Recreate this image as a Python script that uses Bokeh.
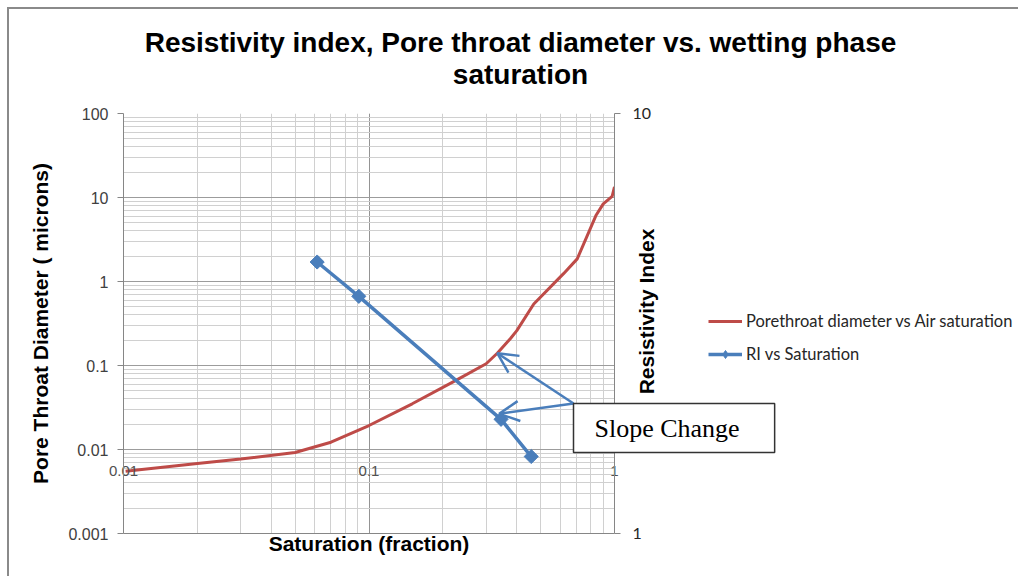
import math
from bokeh.plotting import figure
from bokeh.models import (Range1d, LogScale, LogAxis, Legend, LegendItem, Label,
                          Arrow, OpenHead, ColumnDataSource, FixedTicker, CustomJSTickFormatter)
from bokeh.embed import file_html
from bokeh.resources import INLINE

# ---------------- data ----------------
sat_pore = [0.0102, 0.02, 0.03, 0.05, 0.07, 0.1, 0.15, 0.225, 0.3, 0.333, 0.377, 0.4,
            0.469, 0.62, 0.705, 0.84, 0.9, 0.978, 1.0]
pore_diam = [0.0055, 0.0068, 0.0077, 0.0092, 0.0122, 0.0193, 0.035, 0.066, 0.105, 0.14, 0.21, 0.26,
             0.54, 1.24, 1.86, 6.1, 8.4, 10.3, 13.4]
sat_ri = [0.0615, 0.0909, 0.345, 0.458]
ri = [4.43, 3.67, 1.87, 1.525]

x_ticks = [0.01, 0.1, 1]
x_tick_labels = ["0.01", "0.1", "1"]
y_ticks = [0.001, 0.01, 0.1, 1, 10, 100]
y_tick_labels = ["0.001", "0.01", "0.1", "1", "10", "100"]
ri_ticks = [1, 10]
ri_tick_labels = ["1", "10"]

title_lines = ["Resistivity index, Pore throat diameter vs. wetting phase", "saturation"]
x_title = "Saturation (fraction)"
y_title = "Pore Throat Diameter ( microns)"
ri_title = "Resistivity Index"
series_names = ["Porethroat diameter vs Air saturation", "RI vs Saturation"]
note_text = "Slope Change"
arrow_x_start = [0.681, 0.681]
arrow_y_start = [0.0353, 0.0353]
arrow_x_end = [0.333, 0.339]
arrow_y_end = [0.14, 0.0266]

RED = "#be4b48"
BLUE = "#4a7ebb"
AXIS = "#868686"

# ---------------- layout (window px) ----------------
WIN_W, WIN_H = 1020, 578
OX, OY = 9, 9
W, H = WIN_W - OX, WIN_H - OY
FL, FT, FR, FB = 123, 113, 614, 533

p = figure(width=W, height=H, x_axis_type="log", y_axis_type="log",
           x_range=Range1d(0.01, 1), y_range=Range1d(0.001, 100),
           output_backend="svg", toolbar_location=None,
           min_border_left=FL - OX, min_border_top=FT - OY,
           min_border_right=(OX + W) - FR, min_border_bottom=(OY + H) - FB,
           margin=(7, 0, 0, 7))
p.styles = {"border-left": "2px solid #8a8a8a", "border-top": "2px solid #8a8a8a"}
p.outline_line_color = None
p.background_fill_color = "white"
p.border_fill_color = "white"

def minor_of(ticks):
    out = []
    for t in ticks[:-1]:
        out += [t * m for m in range(1, 10)]
    return out + [ticks[-1]]

fmt_code = """
const i = tvals.findIndex(t => Math.abs(Math.log10(t) - Math.log10(tick)) < 1e-6);
return i >= 0 ? tlabels[i] : "";
"""

# x axis: tick labels pulled up to the 0.01 level like the original
xa = p.xaxis[0]
xa.ticker = FixedTicker(ticks=x_ticks, minor_ticks=minor_of(x_ticks))
xa.formatter = CustomJSTickFormatter(args=dict(tvals=x_ticks, tlabels=x_tick_labels), code=fmt_code)
xa.major_label_text_font = "Liberation Sans"
xa.major_label_text_font_size = "15px"
xa.major_label_text_color = "#505050"
xa.major_label_standoff = -68
xa.major_tick_out = 0
xa.major_tick_in = 0
xa.minor_tick_out = 0
xa.minor_tick_in = 0
xa.axis_line_color = AXIS
xa.axis_label = x_title
xa.axis_label_text_font = "Liberation Sans"
xa.axis_label_text_font_style = "bold"
xa.axis_label_text_font_size = "21px"
xa.axis_label_text_color = "black"
xa.axis_label_standoff = 53

# left y axis
ya = p.yaxis[0]
ya.ticker = FixedTicker(ticks=y_ticks, minor_ticks=minor_of(y_ticks))
ya.formatter = CustomJSTickFormatter(args=dict(tvals=y_ticks, tlabels=y_tick_labels), code=fmt_code)
ya.major_label_text_font = "Liberation Sans"
ya.major_label_text_font_size = "16px"
ya.major_label_text_color = "#404040"
ya.major_tick_out = 6
ya.major_tick_in = 0
ya.major_tick_line_color = AXIS
ya.minor_tick_out = 0
ya.minor_tick_in = 0
ya.major_label_standoff = 9
ya.axis_line_color = AXIS
ya.axis_label = y_title
ya.axis_label_text_font = "Liberation Sans"
ya.axis_label_text_font_style = "bold"
ya.axis_label_text_font_size = "21px"
ya.axis_label_text_color = "black"
ya.axis_label_standoff = 13

# grids
p.xgrid.grid_line_color = "#949494"
p.xgrid.minor_grid_line_color = "#d0d0d0"
p.ygrid.grid_line_color = "#9c9c9c"
p.ygrid.minor_grid_line_color = "#d0d0d0"

# secondary y axis (Resistivity Index)
p.extra_y_ranges = {"ri": Range1d(1, 10)}
p.extra_y_scales = {"ri": LogScale()}
ra = LogAxis(y_range_name="ri")
ra.ticker = FixedTicker(ticks=ri_ticks, minor_ticks=[])
ra.formatter = CustomJSTickFormatter(args=dict(tvals=ri_ticks, tlabels=ri_tick_labels), code=fmt_code)
ra.major_label_text_font = "Lato"
ra.major_label_text_font_size = "16px"
ra.major_label_text_color = "#262626"
ra.major_tick_out = 6
ra.major_tick_in = 0
ra.major_tick_line_color = AXIS
ra.minor_tick_out = 0
ra.minor_tick_in = 0
ra.major_label_standoff = 12
ra.axis_line_color = AXIS
p.add_layout(ra, "right")

# series
r_red = p.line(sat_pore, pore_diam, line_color=RED, line_width=3)
r_blue = p.line(sat_ri, ri, line_color=BLUE, line_width=3.5, y_range_name="ri")
r_blue_m = p.scatter(sat_ri, ri, marker="square", angle=math.pi / 4, size=10,
                     fill_color=BLUE, line_color=BLUE, y_range_name="ri")

# arrows
ar_src = ColumnDataSource(dict(x0=arrow_x_start, y0=arrow_y_start, x1=arrow_x_end, y1=arrow_y_end))
p.add_layout(Arrow(x_start="x0", y_start="y0", x_end="x1", y_end="y1", source=ar_src,
                   line_color=BLUE, line_width=2.5,
                   end=OpenHead(size=20, line_color=BLUE, line_width=2.5)))

# ---------------- overlay for texts that cross the plot frame ----------------
q = figure(width=WIN_W, height=WIN_H, x_range=Range1d(0, WIN_W), y_range=Range1d(0, WIN_H),
           output_backend="svg", toolbar_location=None,
           x_axis_location=None, y_axis_location=None,
           min_border=0, min_border_left=0, min_border_right=0, min_border_top=0, min_border_bottom=0)
q.styles = {"position": "absolute", "left": "0px", "top": "0px"}
q.outline_line_color = None
q.background_fill_color = None
q.border_fill_color = None
q.grid.grid_line_color = None

for i, line in enumerate(title_lines):
    q.add_layout(Label(x=520, y=WIN_H - (42 + 32 * i), x_units="screen", y_units="screen",
                       text=line, text_align="center", text_baseline="middle",
                       text_font="Liberation Sans", text_font_style="bold",
                       text_font_size="28px", text_color="black"))

q.add_layout(Label(x=646, y=WIN_H - 311, x_units="screen", y_units="screen", angle=math.pi / 2,
                   text=ri_title, text_align="center", text_baseline="middle",
                   text_font="Liberation Sans", text_font_style="bold",
                   text_font_size="21px", text_color="black"))

q.add_layout(Label(x=573, y=WIN_H - 427.5, x_units="screen", y_units="screen", text=note_text,
                   text_align="left", text_baseline="middle",
                   text_font="Liberation Serif", text_font_size="26px", text_color="black",
                   background_fill_color="white", border_line_color="#333333", border_line_width=1.5,
                   padding=(21, 35, 10, 10)))

# legend swatches (styled stand-ins kept outside the visible canvas)
lg_red = q.line([-20, -10], [-20, -10], line_color=RED, line_width=3)
lg_blue = q.line([-20, -10], [-20, -10], line_color=BLUE, line_width=3.5)
lg_blue_m = q.scatter([-20], [-20], marker="diamond", size=13,
                      fill_color=BLUE, line_color=BLUE)
legend = Legend(items=[LegendItem(label=series_names[0], renderers=[lg_red]),
                       LegendItem(label=series_names[1], renderers=[lg_blue, lg_blue_m])],
                location=(708, WIN_H - 311 - 53), orientation="vertical",
                glyph_width=34, glyph_height=20, label_height=20, spacing=13,
                label_standoff=4, padding=0, margin=0,
                label_text_font="Lato", label_text_font_size="16.5px", label_text_color="#262626",
                border_line_color=None, background_fill_alpha=0)
q.add_layout(legend, "center")

open("out.html", "w").write(file_html([p, q], INLINE))
